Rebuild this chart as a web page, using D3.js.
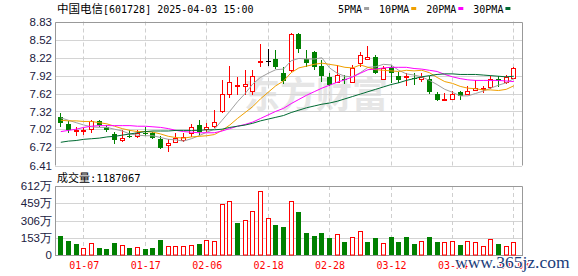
<!DOCTYPE html>
<html>
<head>
<meta charset="utf-8">
<script src="https://cdn.jsdelivr.net/npm/d3@7"></script>
<style>
  body { margin: 0; background: #fff; }
  svg { display: block; }
</style>
</head>
<body>
<svg id="chart"></svg>
<script>
// trading days shown on the chart
const dates = ["01-02","01-03","01-06","01-07","01-08","01-09","01-10","01-13","01-14","01-15",
  "01-16","01-17","01-20","01-21","01-22","01-23","01-24","01-27","02-05","02-06",
  "02-07","02-10","02-11","02-12","02-13","02-14","02-17","02-18","02-19","02-20",
  "02-21","02-24","02-25","02-26","02-27","02-28","03-03","03-04","03-05","03-06",
  "03-07","03-10","03-11","03-12","03-13","03-14","03-17","03-18","03-19","03-20",
  "03-21","03-24","03-25","03-26","03-27","03-28","03-31","04-01","04-02","04-03"];

const open = [7.23,7.11,6.99,6.99,7.02,7.16,7.05,6.94,6.84,6.91,
  6.90,6.96,6.95,6.85,6.75,6.81,6.84,6.96,7.09,7.02,
  7.08,7.32,7.61,7.75,7.74,7.67,8.15,8.16,8.20,7.97,
  8.01,8.62,8.20,8.31,8.09,7.90,7.82,7.87,7.82,8.13,
  8.20,8.24,7.86,8.07,7.92,7.90,7.88,7.87,7.86,7.62,
  7.52,7.53,7.64,7.61,7.68,7.71,7.73,7.87,7.81,7.88];
const high = [7.29,7.15,7.05,7.04,7.18,7.18,7.09,6.97,7.00,7.00,
  7.00,7.05,6.98,6.90,6.85,6.96,6.95,7.11,7.17,7.12,
  7.35,7.84,8.09,7.90,8.02,8.02,8.46,8.37,8.35,8.07,
  8.63,8.64,8.35,8.34,8.19,7.96,8.10,7.93,8.10,8.31,
  8.42,8.27,8.08,8.10,7.98,7.96,7.96,7.97,7.92,7.65,
  7.63,7.67,7.66,7.74,7.85,7.75,7.92,7.92,7.93,8.07];
const low = [7.06,6.96,6.91,6.93,6.95,7.06,6.98,6.77,6.81,6.87,
  6.87,6.91,6.85,6.68,6.63,6.79,6.81,6.89,6.92,6.98,
  7.04,7.29,7.54,7.60,7.60,7.60,8.07,8.08,8.03,7.78,
  7.98,8.30,8.07,8.02,7.82,7.75,7.79,7.78,7.81,8.07,
  8.19,7.95,7.85,7.80,7.79,7.75,7.76,7.82,7.62,7.49,
  7.50,7.51,7.51,7.59,7.66,7.63,7.70,7.73,7.78,7.86];
const close = [7.12,7.01,7.00,7.00,7.15,7.09,7.00,6.84,6.88,6.90,
  6.96,6.95,6.88,6.70,6.78,6.87,6.89,7.05,6.98,7.06,
  7.14,7.61,7.81,7.76,7.78,7.92,8.17,8.16,8.07,7.83,
  8.62,8.37,8.13,8.07,7.92,7.77,7.93,7.84,8.05,8.27,
  8.23,7.97,8.05,7.96,7.85,7.92,7.86,7.90,7.65,7.51,
  7.53,7.62,7.58,7.67,7.72,7.72,7.86,7.83,7.89,8.05];

// moving averages
const ma5 = [7.21,7.17,7.13,7.09,7.06,7.05,7.05,7.02,6.99,6.94,
  6.92,6.91,6.91,6.88,6.85,6.84,6.82,6.86,6.91,6.97,
  7.02,7.17,7.32,7.48,7.62,7.78,7.89,7.96,8.02,8.03,
  8.17,8.21,8.20,8.20,8.22,8.05,7.96,7.91,7.90,7.97,
  8.06,8.07,8.11,8.10,8.01,7.95,7.93,7.90,7.84,7.77,
  7.69,7.64,7.58,7.58,7.62,7.66,7.71,7.76,7.80,7.87];
const ma10 = [7.17,7.16,7.16,7.15,7.15,7.13,7.11,7.07,7.03,7.00,
  6.98,6.98,6.97,6.94,6.90,6.88,6.87,6.89,6.90,6.91,
  6.93,7.00,7.09,7.20,7.30,7.40,7.53,7.64,7.75,7.83,
  7.97,8.05,8.08,8.11,8.13,8.11,8.09,8.06,8.05,8.10,
  8.06,8.02,8.01,8.00,7.99,8.01,8.00,8.01,7.97,7.89,
  7.82,7.79,7.74,7.71,7.70,7.68,7.68,7.67,7.69,7.75];
const ma20 = [6.98,7.00,7.02,7.05,7.07,7.08,7.08,7.08,7.08,7.08,
  7.07,7.07,7.06,7.05,7.03,7.00,6.98,6.97,6.96,6.96,
  6.96,6.99,7.03,7.07,7.10,7.14,7.20,7.26,7.32,7.37,
  7.45,7.52,7.59,7.65,7.71,7.76,7.81,7.85,7.90,7.96,
  8.02,8.03,8.05,8.06,8.06,8.06,8.04,8.03,8.01,7.99,
  7.94,7.90,7.87,7.85,7.84,7.84,7.84,7.84,7.83,7.82];
const ma30 = [6.80,6.82,6.83,6.85,6.86,6.87,6.89,6.90,6.92,6.94,
  6.96,6.98,6.99,6.99,6.99,7.00,7.00,7.00,7.00,7.01,
  7.01,7.02,7.05,7.07,7.09,7.12,7.16,7.19,7.22,7.25,
  7.30,7.34,7.38,7.41,7.44,7.46,7.49,7.53,7.57,7.61,
  7.65,7.69,7.73,7.77,7.80,7.84,7.87,7.90,7.92,7.94,
  7.95,7.95,7.94,7.94,7.94,7.93,7.92,7.91,7.90,7.91];

// volume in 万 shares, and whether the volume bar is drawn as "up" (red)
const volume = [168,124,98,59,104,62,53,106,86,62,
  68,53,62,133,80,80,80,86,98,130,
  124,452,476,287,308,387,565,325,266,248,
  476,381,198,168,198,151,186,118,157,213,
  118,154,106,160,118,160,98,124,160,118,
  115,124,86,124,115,77,139,98,77,118.7];
const volUp = [0,0,0,1,1,0,0,0,1,0,
  1,0,0,0,1,1,1,1,0,1,
  1,1,1,0,1,1,1,1,0,0,
  1,0,0,0,0,0,1,0,1,1,
  0,0,1,0,0,0,0,1,0,0,
  1,1,0,1,1,1,1,0,1,1];

const priceTicks = [8.83,8.52,8.22,7.92,7.62,7.32,7.02,6.72,6.41];
const volTicks = [0,153,306,459,612];
const dateTicks = ["01-07","01-17","02-06","02-18","02-28","03-12","03-24","04-03"];
const maNames = ["5PMA","10PMA","20PMA","30PMA"];

const title = {name: "中国电信", rest: "[601728] 2025-04-03 15:00"};
const lastVolume = "1187067";

// ---- layout
const width = 578, height = 276;
const left = 55, right = 522;
const priceTop = 21.5, priceBot = 165.5;
const volTop = 186, volBot = 255;

const RED = "#ff0000", GREEN = "#008000";
const maColors = ["#a0a0a0", "#f0a000", "#ff00ff", "#006a32"];
const monoFont = "'DejaVu Sans Mono', monospace";
const cjkFont = "'Noto Sans CJK SC', sans-serif";
const axisFont = "'Liberation Sans', Arial, sans-serif";

const svg = d3.select("#chart")
    .attr("width", width)
    .attr("height", height);

const x = d3.scalePoint().domain(dates).range([60.3, 513.4]);
const y = d3.scaleLinear().domain([6.41, 8.83]).range([priceBot, priceTop]);
const yv = d3.scaleLinear().domain([0, 612]).range([volBot, volTop]);

const px = d => Math.round(x(d));

// watermark behind everything
svg.append("text")
    .attr("x", 244)
    .attr("y", 108)
    .attr("font-family", cjkFont)
    .attr("font-size", 36)
    .attr("font-weight", "bold")
    .attr("fill", "#e6e6e6")
    .text("东方财富");

// ---- grids
function drawGrid(yScale, ticks, top, bot) {
    const g = svg.append("g");
    g.selectAll(".hgrid")
        .data(ticks)
        .enter().append("line")
        .attr("x1", left).attr("x2", right)
        .attr("y1", d => Math.round(yScale(d)) + 0.5)
        .attr("y2", d => Math.round(yScale(d)) + 0.5)
        .attr("stroke", "#d4d4d4");
    g.selectAll(".vgrid")
        .data(dateTicks)
        .enter().append("line")
        .attr("x1", d => px(d) + 0.5).attr("x2", d => px(d) + 0.5)
        .attr("y1", top).attr("y2", bot)
        .attr("stroke", "#cfcfcf")
        .attr("stroke-dasharray", "4,3");
    // frame: top, left, right
    g.append("path")
        .attr("d", `M${left + 0.5},${bot}V${Math.round(top) + 0.5}H${right + 0.5}V${bot}`)
        .attr("fill", "none")
        .attr("stroke", "#999");
}
drawGrid(y, priceTicks, priceTop, priceBot);
drawGrid(yv, volTicks, volTop, volBot);

// bottom line of the volume panel
svg.append("line")
    .attr("x1", left).attr("x2", right + 1)
    .attr("y1", volBot + 0.5).attr("y2", volBot + 0.5)
    .attr("stroke", "#999");

// ---- axes (labels only)
const yAxis = svg.append("g")
    .attr("transform", `translate(${left - 1},0)`)
    .call(d3.axisLeft(y).tickValues(priceTicks).tickSize(0).tickPadding(2)
        .tickFormat(d3.format(".2f")));
const vAxis = svg.append("g")
    .attr("transform", `translate(${left - 1},0)`)
    .call(d3.axisLeft(yv).tickValues(volTicks).tickSize(0).tickPadding(2)
        .tickFormat(d => d ? d + "万" : "0"));
[yAxis, vAxis].forEach(a => {
    a.select(".domain").remove();
    a.selectAll("text")
        .attr("font-family", axisFont)
        .attr("font-size", 11.5)
        .attr("fill", "#202040");
});

const xAxis = svg.append("g")
    .attr("transform", `translate(0.5,${volBot})`)
    .call(d3.axisBottom(x).tickValues(dateTicks).tickSize(0).tickPadding(7));
xAxis.select(".domain").remove();
xAxis.selectAll("text")
    .attr("font-family", monoFont)
    .attr("font-size", 10)
    .attr("fill", RED);

// ---- candles
const candles = dates.map((d, i) => ({
    d, o: open[i], h: high[i], l: low[i], c: close[i]
}));
const candleColor = k => k.c > k.o ? RED : (k.c < k.o ? GREEN : "#000");

const cg = svg.append("g");
cg.selectAll(".wick")
    .data(candles)
    .enter().append("line")
    .attr("x1", k => px(k.d) + 0.5).attr("x2", k => px(k.d) + 0.5)
    .attr("y1", k => Math.round(y(k.h)))
    .attr("y2", k => Math.round(y(k.l)))
    .attr("stroke", candleColor);

cg.selectAll(".body")
    .data(candles)
    .enter().append("rect")
    .attr("x", k => k.c > k.o ? px(k.d) - 1.5 : px(k.d) - 2)
    .attr("width", k => k.c > k.o ? 4 : 5)
    .attr("y", k => {
        const t = Math.round(y(Math.max(k.o, k.c)));
        return k.c > k.o ? t + 0.5 : t;
    })
    .attr("height", k => {
        const t = Math.round(y(Math.max(k.o, k.c)));
        const b = Math.round(y(Math.min(k.o, k.c)));
        return k.c > k.o ? Math.max(b - t, 1) : Math.max(b - t, 1);
    })
    .attr("fill", k => k.c > k.o ? "#fff" : candleColor(k))
    .attr("stroke", k => k.c > k.o ? RED : "none");

// ---- moving averages
const maSeries = [ma5, ma10, ma20, ma30];
const line = d3.line()
    .x((v, i) => x(dates[i]) + 0.5)
    .y(v => y(v));
svg.append("g")
    .selectAll("path")
    .data(maSeries)
    .enter().append("path")
    .attr("d", line)
    .attr("fill", "none")
    .attr("stroke", (s, i) => maColors[i])
    .attr("stroke-width", 1);

// ---- volume bars
const vg = svg.append("g");
vg.selectAll("rect")
    .data(volume)
    .enter().append("rect")
    .attr("x", (v, i) => volUp[i] ? px(dates[i]) - 1.5 : px(dates[i]) - 2)
    .attr("width", (v, i) => volUp[i] ? 4 : 5)
    .attr("y", (v, i) => Math.round(yv(v)) + (volUp[i] ? 0.5 : 0))
    .attr("height", (v, i) => volBot - Math.round(yv(v)) - (volUp[i] ? 0.5 : 0) + (volUp[i] ? 0 : 0))
    .attr("fill", (v, i) => volUp[i] ? "#fff" : GREEN)
    .attr("stroke", (v, i) => volUp[i] ? RED : "none");

// ---- title and legend
const t = svg.append("text")
    .attr("x", 57)
    .attr("y", 12.7)
    .attr("fill", "#000");
t.append("tspan").attr("font-family", cjkFont).attr("font-size", 11.5).text(title.name);
t.append("tspan").attr("font-family", monoFont).attr("font-size", 10).text(title.rest);

const vt = svg.append("text")
    .attr("x", 57)
    .attr("y", 181.5)
    .attr("fill", "#000");
vt.append("tspan").attr("font-family", cjkFont).attr("font-size", 11).text("成交量");
vt.append("tspan").attr("font-family", monoFont).attr("font-size", 10.5).text(":" + lastVolume);

let lx = 338;
maNames.forEach((name, i) => {
    const txt = svg.append("text")
        .attr("x", lx)
        .attr("y", 12.5)
        .attr("font-family", monoFont)
        .attr("font-size", 10)
        .attr("fill", "#000")
        .text(name);
    const w = txt.node().getComputedTextLength();
    svg.append("rect")
        .attr("x", lx + w + 2)
        .attr("y", 7)
        .attr("width", 5)
        .attr("height", 3)
        .attr("fill", maColors[i]);
    lx += w + 17;
});

// site watermark in the corner
svg.append("text")
    .attr("x", 455)
    .attr("y", 267.5)
    .attr("font-family", "'Liberation Serif', serif")
    .attr("font-size", 17.5)
    .attr("fill", "#1a3c7a")
    .attr("stroke", "#fff")
    .attr("stroke-width", 2)
    .attr("paint-order", "stroke")
    .text("www.365jz.com");
</script>
</body>
</html>
